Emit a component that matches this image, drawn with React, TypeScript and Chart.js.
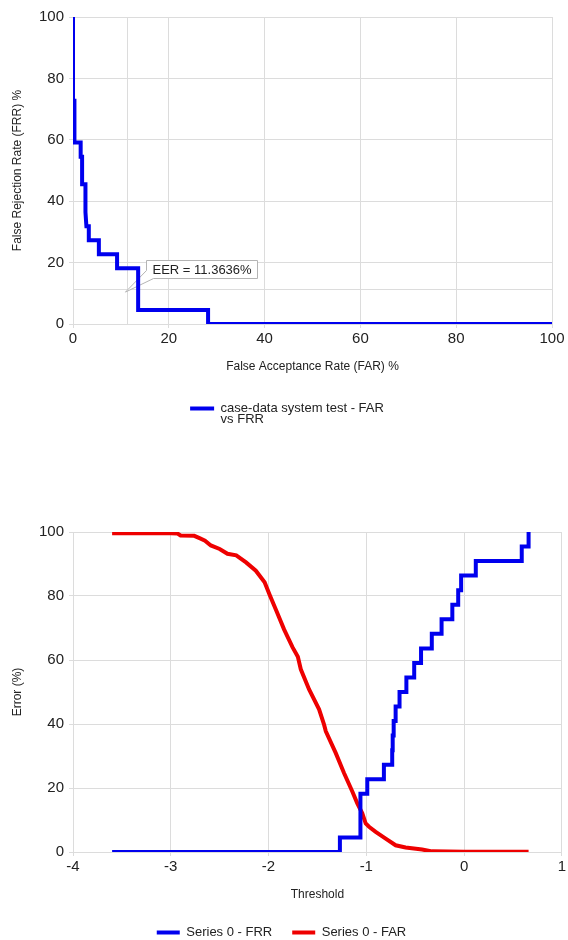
import React, { useEffect, useRef } from "react";
import { Chart, registerables } from "chart.js";
Chart.register(...registerables);

// ---------- Chart 1: FAR vs FRR ----------
const rocFar = [0, 0, 0.3, 0.3, 1.6, 1.6, 1.9, 1.9, 2.6, 2.6, 2.8, 3.3, 3.3, 5.4, 5.4, 9.2, 9.2, 13.6, 13.6, 28.2, 28.2, 100];
const rocFrr = [100, 72.7, 72.7, 59.1, 59.1, 54.5, 54.5, 45.5, 45.5, 36.4, 31.8, 31.8, 27.3, 27.3, 22.7, 22.7, 18.2, 18.2, 4.55, 4.55, 0, 0];
const eerValue = 11.3636;
const eerLabel = "EER = 11.3636%";
const rocLegend = ["case-data system test - FAR", "vs FRR"];
const rocTicks = [0, 20, 40, 60, 80, 100];

// ---------- Chart 2: Error vs Threshold ----------
const frrThreshold = [-3.6, -1.27, -1.06, -0.99, -0.82, -0.735, -0.73, -0.72, -0.70, -0.66, -0.59, -0.51, -0.44, -0.33, -0.23, -0.12, -0.06, -0.03, 0.12, 0.59, 0.66];
const frrValues = [0, 4.55, 18.2, 22.7, 27.3, 31.8, 36.4, 40.9, 45.5, 50, 54.5, 59.1, 63.6, 68.2, 72.7, 77.3, 81.8, 86.4, 90.9, 95.5, 100];
const farThreshold = [-3.6, -3.0, -2.93, -2.9, -2.76, -2.7, -2.65, -2.59, -2.5, -2.42, -2.33, -2.23, -2.13, -2.04, -1.99, -1.92, -1.84, -1.755, -1.7, -1.67, -1.585, -1.483, -1.432, -1.414, -1.312, -1.228, -1.143, -1.092, -1.041, -1.006, -0.972, -0.904, -0.802, -0.7, -0.598, -0.429, -0.327, 0.0, 0.66];
const farValues = [99.6, 99.6, 99.5, 98.9, 98.8, 98.0, 97.3, 95.8, 94.7, 93.2, 92.7, 90.5, 87.9, 84.3, 80.5, 75.4, 69.5, 64.0, 61.0, 57.1, 50.8, 44.6, 39.8, 37.7, 30.9, 24.7, 18.9, 15.2, 12.1, 8.9, 7.9, 6.3, 4.2, 2.1, 1.4, 0.75, 0.2, 0.1, 0.1];
const errTicks = [0, 20, 40, 60, 80, 100];
const thrTicks = [-4, -3, -2, -1, 0, 1];

const FONT = "'Liberation Sans', Arial, Helvetica, sans-serif";
const GRID = "#dcdcdc";
const TXT = "#222222";
const BLUE = "#0000ee";
const RED = "#ee0000";

const eerPlugin = {
  id: "eerCallout",
  beforeDatasetsDraw(chart: any) {
    const { ctx, chartArea, scales } = chart;
    const px = scales.x.getPixelForValue(eerValue);
    const py = scales.y.getPixelForValue(eerValue);
    ctx.save();
    ctx.strokeStyle = GRID;
    ctx.lineWidth = 1;
    ctx.beginPath();
    ctx.moveTo(Math.round(px) + 0.5, chartArea.top);
    ctx.lineTo(Math.round(px) + 0.5, chartArea.bottom);
    ctx.moveTo(chartArea.left, Math.round(py) + 0.5);
    ctx.lineTo(chartArea.right, Math.round(py) + 0.5);
    ctx.stroke();

    const bx = Math.round(px + 18.6) + 0.5;
    const by = Math.round(py - 29) + 0.5;
    const bw = 111;
    const bh = 18;
    ctx.beginPath();
    ctx.moveTo(bx, by);
    ctx.lineTo(bx + bw, by);
    ctx.lineTo(bx + bw, by + bh);
    ctx.lineTo(bx + 7, by + bh);
    ctx.lineTo(px - 2, py + 3);
    ctx.lineTo(bx, by + 10);
    ctx.closePath();
    ctx.fillStyle = "#ffffff";
    ctx.fill();
    ctx.strokeStyle = "#b4b4b4";
    ctx.stroke();
    ctx.fillStyle = TXT;
    ctx.font = `13px ${FONT}`;
    ctx.textBaseline = "middle";
    ctx.textAlign = "left";
    ctx.fillText(eerLabel, bx + 6, by + bh / 2 + 0.5);
    ctx.restore();
  },
};

// widen the legend box so the two-line label is neither clipped nor off-centre
const legendBoxPlugin = {
  id: "legendBox",
  afterLayout(chart: any) {
    const lg = chart.legend;
    if (!lg) return;
    lg.left = lg.left + 6;
    lg.right = chart.width;
    lg.width = lg.right - lg.left;
    lg.bottom = chart.height;
    lg.height = lg.bottom - lg.top;
  },
};

function flatLegendLabels(chart: any) {
  return Chart.defaults.plugins.legend.labels.generateLabels(chart).map((it: any) => ({ ...it, lineWidth: 0 }));
}

function makeScale(min: number, max: number, ticks: number[], title: string, axis: "x" | "y", fit: number) {
  return {
    type: "linear",
    min,
    max,
    afterBuildTicks: (s: any) => {
      s.ticks = ticks.map((v) => ({ value: v }));
    },
    afterFit: (s: any) => {
      if (axis === "y") s.width = fit;
      else s.height = fit;
    },
    grid: { color: GRID, tickLength: 4, drawTicks: true },
    border: { display: false },
    ticks: {
      color: TXT,
      font: { family: FONT, size: 15 },
      padding: axis === "y" ? 5 : 2,
      callback: (v: any) => String(v),
    },
    title: {
      display: true,
      text: title,
      color: TXT,
      font: { family: FONT, size: 12 },
      padding: axis === "y" ? { top: 10, bottom: 0 } : { top: 0, bottom: 4 },
    },
  };
}

function RocChart() {
  const ref = useRef<HTMLCanvasElement>(null);
  useEffect(() => {
    const data = rocFar.map((x, i) => ({ x, y: rocFrr[i] }));
    // multi-line legend label; measured by its longest line
    const legendText: any = rocLegend.slice();
    legendText.toString = () => rocLegend.reduce((a, b) => (a.length >= b.length ? a : b));
    const chart = new Chart(ref.current!, {
      type: "line",
      data: {
        datasets: [
          {
            label: legendText,
            data,
            borderColor: BLUE,
            backgroundColor: BLUE,
            borderWidth: 4,
            pointRadius: 0,
            tension: 0,
            clip: 0,
          } as any,
        ],
      },
      options: {
        responsive: false,
        animation: false,
        events: [],
        layout: { padding: { top: 17, right: 16, left: 0, bottom: 35 } },
        scales: {
          x: makeScale(0, 100, rocTicks, "False Acceptance Rate (FAR) %", "x", 54) as any,
          y: makeScale(0, 100, rocTicks, "False Rejection Rate (FRR) %", "y", 73) as any,
        },
        plugins: {
          legend: {
            position: "bottom",
            labels: {
              color: TXT,
              font: { family: FONT, size: 13, lineHeight: 0.85 },
              boxWidth: 24,
              boxHeight: 4,
              padding: 24,
              generateLabels: flatLegendLabels,
            },
          },
          tooltip: { enabled: false },
        },
      },
      plugins: [eerPlugin, legendBoxPlugin],
    });
    return () => chart.destroy();
  }, []);
  return <canvas ref={ref} width={568} height={460} style={{ position: "absolute", left: 0, top: 0 }} />;
}

function ThresholdChart() {
  const ref = useRef<HTMLCanvasElement>(null);
  useEffect(() => {
    const frr = frrThreshold.map((x, i) => ({ x, y: frrValues[i] }));
    const far = farThreshold.map((x, i) => ({ x, y: farValues[i] }));
    const chart = new Chart(ref.current!, {
      type: "line",
      data: {
        datasets: [
          {
            label: "Series 0 - FRR",
            data: frr,
            borderColor: BLUE,
            backgroundColor: BLUE,
            borderWidth: 4,
            pointRadius: 0,
            stepped: "before",
            clip: 0,
          } as any,
          {
            label: "Series 0 - FAR",
            data: far,
            borderColor: RED,
            backgroundColor: RED,
            borderWidth: 4,
            pointRadius: 0,
            tension: 0,
            clip: 0,
          } as any,
        ],
      },
      options: {
        responsive: false,
        animation: false,
        events: [],
        layout: { padding: { top: 62, right: 5, left: 0, bottom: 0 } },
        scales: {
          x: makeScale(-4, 1, thrTicks, "Threshold", "x", 54) as any,
          y: makeScale(0, 100, errTicks, "Error (%)", "y", 73) as any,
        },
        plugins: {
          legend: {
            position: "bottom",
            labels: {
              color: TXT,
              font: { family: FONT, size: 13 },
              boxWidth: 23,
              boxHeight: 4,
              padding: 20,
              generateLabels: flatLegendLabels,
            },
          },
          tooltip: { enabled: false },
        },
      },
    });
    return () => chart.destroy();
  }, []);
  return <canvas ref={ref} width={568} height={479} style={{ position: "absolute", left: 0, top: 470 }} />;
}

export default function App() {
  return (
    <div style={{ position: "absolute", left: 0, top: 0, width: 568, height: 940, overflow: "hidden", background: "#ffffff" }}>
      <RocChart />
      <ThresholdChart />
    </div>
  );
}
